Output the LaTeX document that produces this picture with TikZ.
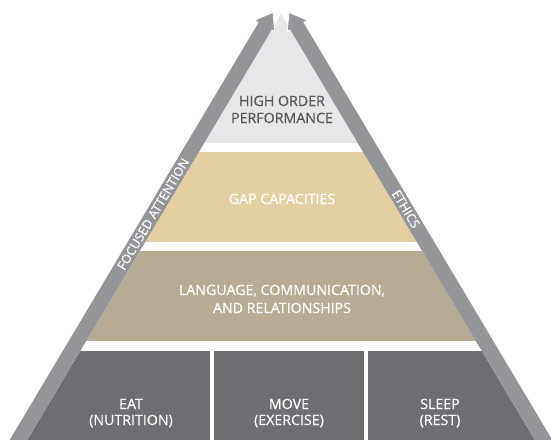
\documentclass[tikz,border=0pt]{standalone}
\usepackage{fontspec}
\setmainfont{Open Sans}[FakeBold=0.5]
\definecolor{bandgray}{HTML}{939598}
\definecolor{lightlayer}{HTML}{E6E7E8}
\definecolor{tanlayer}{HTML}{E4CFA3}
\definecolor{taupelayer}{HTML}{B7AB93}
\definecolor{darkbox}{HTML}{6D6E71}
\definecolor{toptext}{HTML}{58595B}
\tikzset{
  layertext/.style={anchor=base, text=white, font=\fontsize{14.2}{17}\selectfont, inner sep=0pt},
  toplabel/.style={layertext, text=toptext},
  bandtext/.style={text=white, font=\fontsize{12.6}{14}\selectfont, inner sep=0pt},
  band/.style={fill=bandgray},
}
\begin{document}
\begin{tikzpicture}[x=1pt, y=-1pt]
\useasboundingbox (0,0) rectangle (551,439);
\clip (0,0) rectangle (551,439);
% inner pyramid layers
\begin{scope}
\clip (281,14.2) -- (15.3,460) -- (546.7,460) -- cycle;
\fill[lightlayer] (0,0) rectangle (551,143);
\fill[tanlayer] (0,152) rectangle (551,242);
\fill[taupelayer] (0,251) rectangle (551,341);
\fill[darkbox] (0,351) rectangle (210,460);
\fill[darkbox] (214,351) rectangle (364,460);
\fill[darkbox] (368,351) rectangle (560,460);
\end{scope}
% left band with arrow head
\fill[band] (0.06,456.16) -- (258.86,22.06) -- (255.85,20.27) -- (273,13) -- (274.75,31.53) -- (271.74,29.74) -- (12.94,463.84) -- cycle;
\draw[white, line width=0.8pt] (273,13) -- (274.75,31.53) -- (271.74,29.74);
% right band with arrow head
\fill[band] (561.94,456.16) -- (303.14,22.06) -- (306.15,20.27) -- (289,13) -- (287.25,31.53) -- (290.26,29.74) -- (549.06,463.84) -- cycle;
\draw[white, line width=0.8pt] (289,13) -- (287.25,31.53) -- (290.26,29.74);
% labels
\node[toplabel] (hi1) at (282,106) {HIGH ORDER};
\node[toplabel] (hi2) at (282,123) {PERFORMANCE};
\node[layertext] (gap) at (282,204) {GAP CAPACITIES};
\node[layertext] (lang1) at (282,295) {LANGUAGE, COMMUNICATION,};
\node[layertext] (lang2) at (282,313) {AND RELATIONSHIPS};
\node[layertext] (eat) at (131,409) {EAT};
\node[layertext] (eat2) at (131,425) {(NUTRITION)};
\node[layertext] (move) at (289,409) {MOVE};
\node[layertext] (move2) at (289,425) {(EXERCISE)};
\node[layertext] (sleep) at (440,409) {SLEEP};
\node[layertext] (sleep2) at (440,425) {(REST)};
\node[bandtext, rotate=59.2] (focus) at (153.2,214) {FOCUSED ATTENTION};
\node[bandtext, rotate=-59.2] (ethics) at (406,209) {ETHICS};
\end{tikzpicture}
\end{document}
